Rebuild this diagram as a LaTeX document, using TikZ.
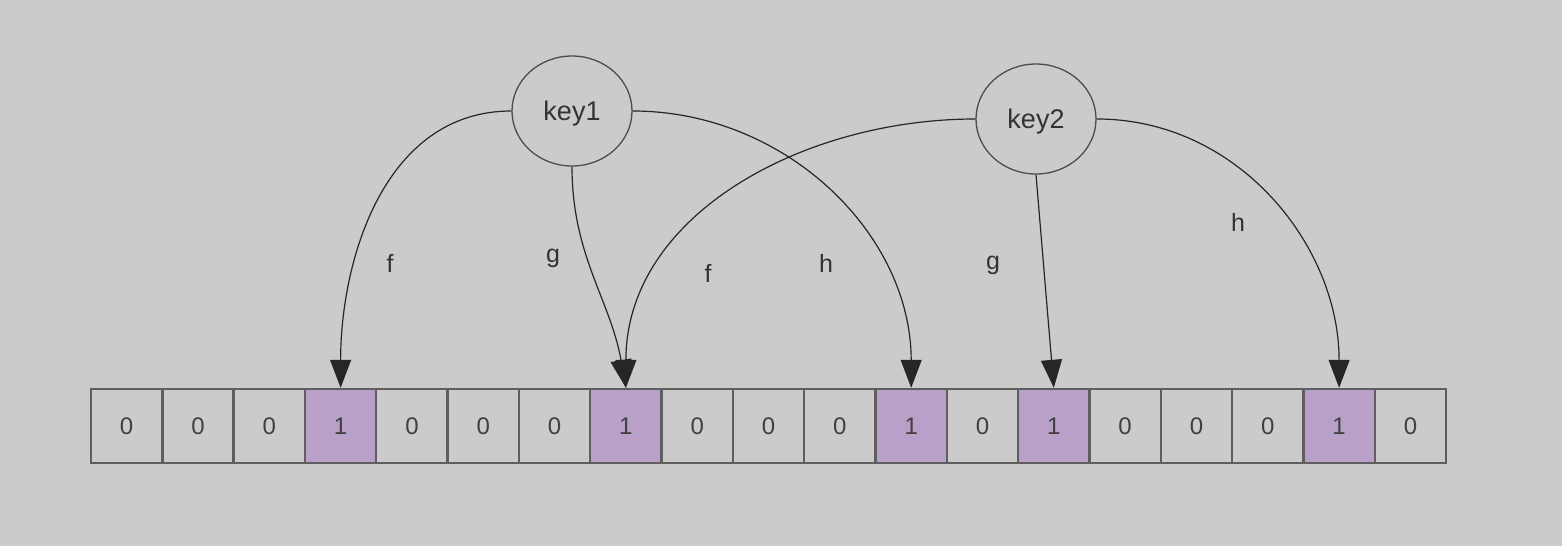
\documentclass[tikz,border=0pt]{standalone}
\usepackage{fontspec}
\setmainfont{Liberation Sans}
\usepackage{tikz}
\usetikzlibrary{arrows.meta,shapes.geometric}
\definecolor{bgray}{HTML}{CBCBCB}
\definecolor{bitpurple}{HTML}{B9A0C9}
\definecolor{edgegray}{HTML}{5E5E5E}
\tikzset{
    cell/.style={rectangle,draw=edgegray,line width=1.2pt,minimum width=35.65pt,minimum height=37pt,inner sep=0pt,font=\fontsize{12}{14}\selectfont,text=black!75},
    bit0/.style={},
    bit1/.style={fill=bitpurple},
    keynode/.style={ellipse,draw=black!70,line width=0.65pt,minimum width=60pt,minimum height=55pt,inner sep=0pt,text depth=0pt,font=\fontsize{13.5}{16}\selectfont,text=black!80},
    link/.style={draw=black!85,line width=0.6pt,-{Triangle[length=14pt,width=10.5pt]}},
    fname/.style={font=\fontsize{12.5}{15}\selectfont,text=black!80}
}

\begin{document}
\begin{tikzpicture}[x=0.5pt,y=-0.5pt]
                            \fill[bgray] (0,0) rectangle (1562,546);
                            \foreach \v [count=\i from 0] in {0,0,0,1,0,0,0,1,0,0,0,1,0,1,0,0,0,1,0}
                                \node[cell,bit\v] (c\i) at ({91+71.32*(\i+0.5)},426) {\v};
                            \node[keynode] (key1) at (572,111) {key1};
                            \node[keynode] (key2) at (1036,119) {key2};
                            \draw[link] (key1.west) to[out=180,in=90] (c3.north);
                            \draw[link] (key1.south) to[out=-90,in=100] (c7.north);
                            \draw[link] (key1.east) to[out=0,in=90] (c11.north);
                            \draw[link] (key2.west) to[out=180,in=90] (c7.north);
                            \draw[link] (key2.south) -- (c13.north);
                            \draw[link] (key2.east) to[out=0,in=90] (c17.north);
                            \node[fname] (f1) at (390,263) {f};
                            \node[fname] (g1) at (553,258) {g};
                            \node[fname] (h1) at (826,263) {h};
                            \node[fname] (f2) at (708,273) {f};
                            \node[fname] (g2) at (993,265) {g};
                            \node[fname] (h2) at (1238,222) {h};
                        \end{tikzpicture}
\end{document}
